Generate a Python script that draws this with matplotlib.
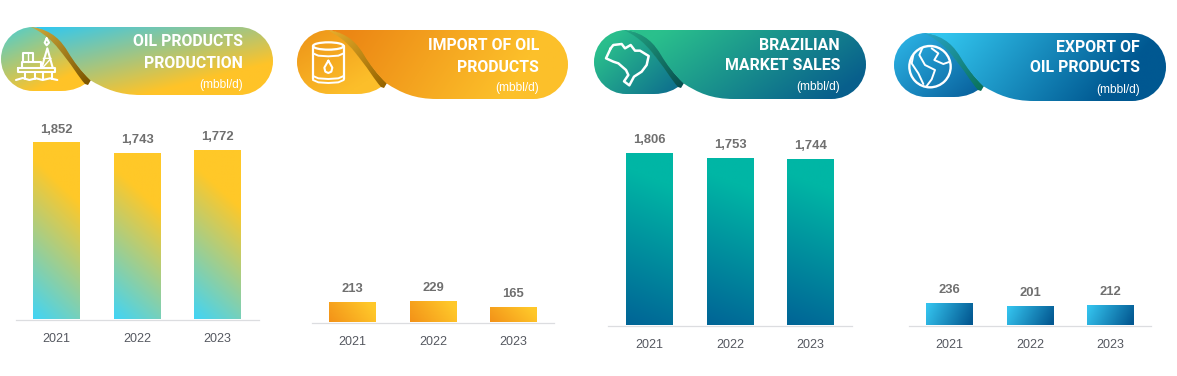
import numpy as np
import matplotlib
matplotlib.use("Agg")
import matplotlib.pyplot as plt
from matplotlib.path import Path
from matplotlib.patches import PathPatch, Circle, Ellipse

W, H = 1177, 376
YEARS = ["2021", "2022", "2023"]
production = [1852, 1743, 1772]
imports = [213, 229, 165]
sales = [1806, 1753, 1744]
exports = [236, 201, 212]
titles = [["OIL PRODUCTS", "PRODUCTION"], ["IMPORT OF OIL", "PRODUCTS"],
          ["BRAZILIAN", "MARKET SALES"], ["EXPORT OF", "OIL PRODUCTS"]]
unit = "(mbbl/d)"

TITLE_FONT = ["Roboto", "Liberation Sans"]
SANS = ["Liberation Sans"]
PX_PER_UNIT = 0.0956
BAR_PX, STEP_PX = 47, 80.5


def rgb(*c):
    return tuple(v / 255 for v in c)


panels = [
    dict(values=production, base=319.5, left=16, right=259, first=56.5,
         bar=(rgb(65, 212, 245), rgb(255, 200, 40), 0.0, 0.28, 1.1),
         box=(1, 27, 272, 68, 64),
         right_c=(rgb(50, 200, 240), rgb(255, 195, 40), (40, 0), (62, 88)),
         lobe_c=(rgb(85, 205, 200), rgb(255, 195, 40), (10, 0), (38, 62)),
         sw_c=(rgb(205, 170, 60), rgb(125, 85, 0)),
         text_x=243, text_y=(41.7, 64, 85)),
    dict(values=imports, base=322.5, left=312, right=554, first=352.5,
         bar=(rgb(243, 146, 24), rgb(255, 200, 42), 0.0, 0.85, 0.3),
         box=(297, 30, 271, 69, 64),
         right_c=(rgb(236, 134, 20), rgb(252, 192, 42), (50, 0), (190, 90)),
         lobe_c=(rgb(238, 150, 25), rgb(252, 190, 42), (10, 0), (50, 62)),
         sw_c=(rgb(232, 175, 45), rgb(150, 100, 0)),
         text_x=539, text_y=(45.7, 67.3, 88)),
    dict(values=sales, base=325.5, left=608, right=852, first=649.5,
         bar=(rgb(0, 100, 150), rgb(0, 182, 165), 0.0, 0.12, 1.1),
         box=(594, 30, 272, 69, 64),
         right_c=(rgb(42, 192, 140), rgb(8, 95, 140), (70, 0), (160, 125)),
         lobe_c=(rgb(42, 190, 140), rgb(12, 105, 142), (15, 10), (75, 75)),
         sw_c=(rgb(35, 165, 130), rgb(8, 80, 80)),
         text_x=840, text_y=(46, 66, 87)),
    dict(values=exports, base=325.5, left=909, right=1151, first=949.5,
         bar=(rgb(52, 195, 238), rgb(3, 88, 145), 0.15, 0.9, -0.2),
         box=(894, 33, 272, 68, 64),
         right_c=(rgb(50, 197, 238), rgb(0, 88, 145), (50, 0), (180, 105)),
         lobe_c=(rgb(42, 175, 225), rgb(8, 95, 155), (10, 5), (70, 75)),
         sw_c=(rgb(40, 165, 200), rgb(10, 115, 90)),
         text_x=1140, text_y=(47, 68, 90)),
]

fig = plt.figure(figsize=(W / 100, H / 100), dpi=100, facecolor="white")


def paint_bar(ax, rect, spec):
    c0, c1, off, gx, gy = spec
    x0, w, h = rect.get_x(), rect.get_width(), rect.get_height()
    xf, yf = np.meshgrid(np.linspace(0, 1, 60), np.linspace(0, 1, 120))
    t = np.clip(off + gx * xf + gy * yf, 0, 1)[..., None]
    img = np.array(c0) * (1 - t) + np.array(c1) * t
    im = ax.imshow(img, extent=(x0, x0 + w, 0, h), origin="lower", aspect="auto",
                   interpolation="bilinear", zorder=2)
    im.set_clip_path(rect)


for p in panels:
    top_px = 110
    ax = fig.add_axes([p["left"] / W, (H - p["base"]) / H,
                       (p["right"] - p["left"]) / W, (p["base"] - top_px) / H])
    ax.patch.set_alpha(0)
    xs = np.arange(len(YEARS))
    bars = ax.bar(xs, p["values"], width=BAR_PX / STEP_PX, color="none", linewidth=0)
    xlim = ((p["left"] - p["first"]) / STEP_PX, (p["right"] - p["first"]) / STEP_PX)
    ylim = (0, (p["base"] - top_px) / PX_PER_UNIT)
    for b in bars:
        paint_bar(ax, b, p["bar"])
    ax.set_xlim(*xlim)
    ax.set_ylim(*ylim)
    for x, v in zip(xs, p["values"]):
        ax.annotate(f"{v:,}", (x, v), xytext=(0, 9.3), textcoords="offset points",
                    ha="center", va="center", fontsize=9.4, fontweight="bold",
                    family=SANS, color="#6f6f6f")
    for s in ("top", "left", "right"):
        ax.spines[s].set_visible(False)
    ax.spines["bottom"].set_color("#dcdde0")
    ax.spines["bottom"].set_linewidth(0.9)
    ax.set_yticks([])
    ax.set_xticks(xs, YEARS)
    ax.tick_params(axis="x", length=0, pad=9.5, labelsize=9, labelcolor="#555860")
    for lab in ax.get_xticklabels():
        lab.set_family(SANS)

# Banner layer, drawn in figure pixels
ov = fig.add_axes([0, 0, 1, 1], zorder=5)
ov.set_xlim(0, W)
ov.set_ylim(H, 0)
ov.axis("off")
ov.patch.set_alpha(0)

M, L, C, Z = Path.MOVETO, Path.LINETO, Path.CURVE4, Path.CLOSEPOLY
K = 0.5523


def grad_fill(path, c0, c1, s, e, box, z=1):
    """Fill a path with a linear gradient going from point s to point e (local px)."""
    x0, y0, w, h = box
    uu, vv = np.meshgrid(np.linspace(0, w, 140), np.linspace(0, h, 70))
    d = np.array(e, float) - np.array(s, float)
    t = ((uu - s[0]) * d[0] + (vv - s[1]) * d[1]) / (d @ d)
    t = np.clip(t, 0, 1)[..., None]
    img = np.array(c0) * (1 - t) + np.array(c1) * t
    im = ov.imshow(img, extent=(x0, x0 + w, y0 + h, y0), origin="upper", aspect="auto",
                   interpolation="bilinear", zorder=z)
    patch = PathPatch(path, transform=ov.transData, fc="none", ec="none")
    ov.add_patch(patch)
    im.set_clip_path(patch)


def banner(p):
    x0, y0, w, h, lh = p["box"]
    box = (x0, y0, w, h)
    T = lambda pts: [(x0 + u, y0 + v) for u, v in pts]
    r = h / 2
    lr = lh / 2
    lobe_v = [(lr, 0), (lr - K * lr, 0), (0, lr - K * lr), (0, lr),
              (0, lr + K * lr), (lr - K * lr, lh), (lr, lh),
              (60, lh), (72, lh), (81, 60), (88, 54),
              (79, 46), (72, 38), (64, 29),
              (57, 20), (49, 8), (lr, 0), (lr, 0)]
    lobe_c = [M, C, C, C, C, C, C, L, C, C, C, C, C, C, C, C, C, Z]
    right_v = [(31, 0), (w - r, 0), (w - r + K * r, 0), (w, r - K * r), (w, r),
               (w, r + K * r), (w - r + K * r, h), (w - r, h), (140, h),
               (118, h), (104, h - 6), (89, 53),
               (80, 44), (73, 35), (67, 25),
               (61, 15), (52, 3), (31, 0), (31, 0)]
    right_c = [M, L, C, C, C, C, C, C, L, C, C, C, C, C, C, C, C, C, Z]
    sw_v = [(30, 0), (52, 1), (61, 14), (68, 25),
            (74, 35), (80, 44), (90, 53),
            (87, 58), (84, 57),
            (77, 49), (72, 40), (64, 30),
            (57, 21), (49, 9), (30, 0), (30, 0)]
    sw_c = [M, C, C, C, C, C, C, L, L, C, C, C, C, C, C, Z]
    grad_fill(Path(T(lobe_v), lobe_c), *p["lobe_c"], box, z=1)
    grad_fill(Path(T(sw_v), sw_c), *p["sw_c"], (30, 0), (88, 55), box, z=2)
    grad_fill(Path(T(right_v), right_c), *p["right_c"], box, z=3)


def icon_line(cx, cy, pts, lw=1.5, close=False):
    a = [(cx + X / 3, cy + Y / 3) for X, Y in pts]
    if close:
        a.append(a[0])
    ov.plot(*zip(*a), color="white", lw=lw, solid_capstyle="round",
            solid_joinstyle="round", zorder=4)


def rig(cx, cy):
    icon_line(cx, cy, [(55, 143), (165, 143), (165, 155), (55, 155)], close=True)
    icon_line(cx, cy, [(65, 143), (65, 125), (122, 125), (122, 143)])
    icon_line(cx, cy, [(68, 125), (68, 100), (100, 100), (100, 125)])
    icon_line(cx, cy, [(85, 100), (85, 125)], lw=1.0)
    icon_line(cx, cy, [(125, 143), (142, 85), (158, 143)])
    icon_line(cx, cy, [(130, 115), (153, 115), (128, 143)], lw=1.0)
    icon_line(cx, cy, [(140, 55), (147, 68), (140, 76), (134, 68)], close=True)
    for X in (75, 105, 130, 155):
        icon_line(cx, cy, [(X, 155), (X, 176)])
    icon_line(cx, cy, [(48, 180), (68, 174), (88, 180), (108, 175), (128, 180), (150, 175), (172, 180)])


def barrel(cx, cy):
    icon_line(cx, cy, [(69, 78), (69, 178)], lw=1.6)
    icon_line(cx, cy, [(161, 78), (161, 178)], lw=1.6)
    ov.add_patch(Ellipse((cx + 115 / 3, cy + 78 / 3), 92 / 3, 22 / 3, fc="none", ec="white", lw=1.6, zorder=4))
    for Y in (100, 168, 180):
        icon_line(cx, cy, [(69, Y), (85, Y + 7), (115, Y + 9), (145, Y + 7), (161, Y)], lw=1.4)
    icon_line(cx, cy, [(115, 122), (127, 143), (124, 155), (115, 159), (106, 155), (103, 143)], close=True)


def brazil(cx, cy):
    icon_line(cx, cy, [(62, 85), (70, 75), (95, 72), (105, 85), (122, 75), (135, 92), (150, 92), (176, 108),
                       (170, 135), (155, 155), (132, 170), (118, 196), (102, 184), (115, 165), (108, 150),
                       (85, 130), (70, 125), (48, 115), (55, 100)], lw=1.8, close=True)


def globe(cx, cy):
    ov.add_patch(Circle((cx + 135 / 3, cy + 140 / 3), 62 / 3, fc="none", ec="white", lw=1.7, zorder=4))
    icon_line(cx, cy, [(112, 84), (103, 105), (120, 135), (150, 150), (140, 178), (125, 198)], lw=1.4)
    icon_line(cx, cy, [(85, 105), (80, 130), (100, 160), (115, 192)], lw=1.4)
    icon_line(cx, cy, [(140, 85), (160, 100), (148, 120), (175, 132), (195, 125)], lw=1.4)


for p, title in zip(panels, titles):
    banner(p)
    for line, y in zip(title, p["text_y"]):
        ov.text(p["text_x"], y, line, ha="right", va="center", color="white",
                fontsize=11.4, fontweight="bold", family=TITLE_FONT, zorder=6)
    ov.text(p["text_x"], p["text_y"][2], unit, ha="right", va="center", color="white",
            fontsize=8.6, family=SANS, zorder=6)

rig(0, 20)
barrel(290, 20)
brazil(590, 20)
globe(885, 20)
ov.set_xlim(0, W)
ov.set_ylim(H, 0)

fig.savefig("out.png", dpi=100)
